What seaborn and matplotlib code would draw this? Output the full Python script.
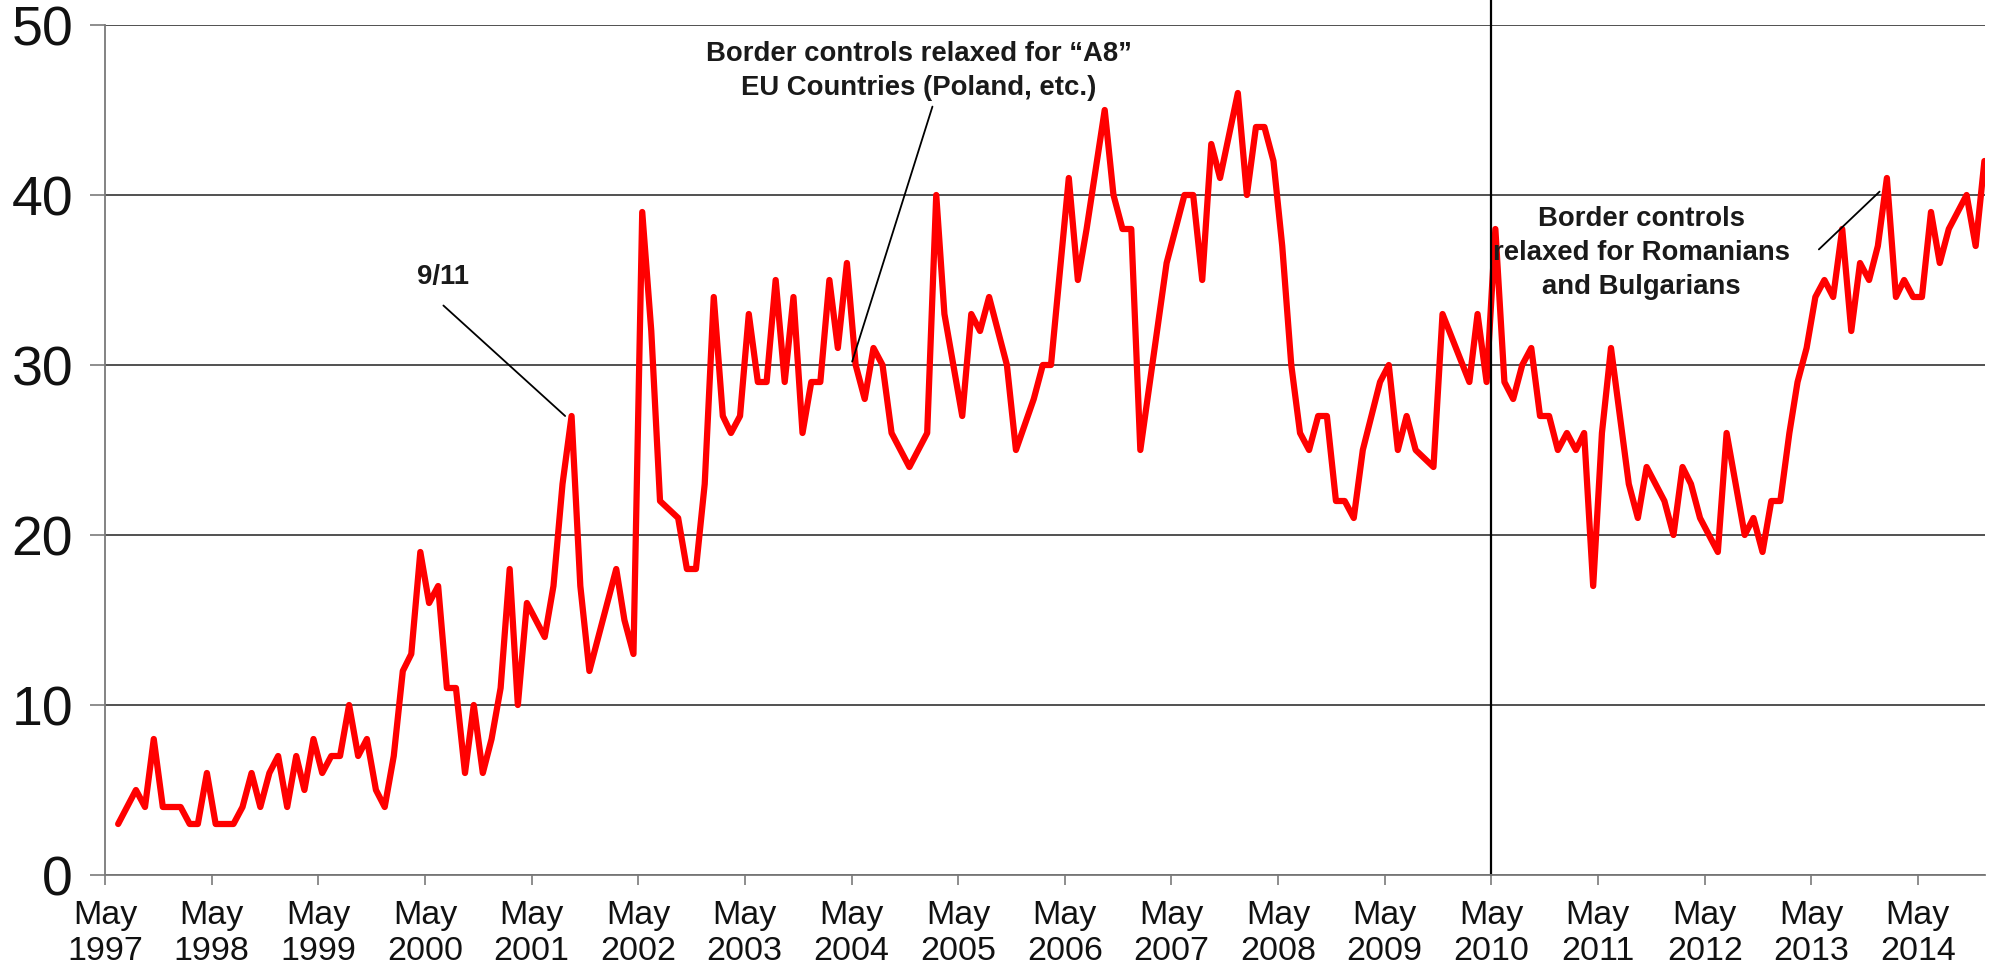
import pandas as pd
import seaborn as sns
import matplotlib.pyplot as plt

# vertices of the monthly series (months with no kink are left out)
months = [
    "1997-06", "1997-08", "1997-09", "1997-10", "1997-11",
    "1998-01", "1998-02", "1998-03", "1998-04", "1998-05", "1998-07", "1998-08",
    "1998-09", "1998-10", "1998-11", "1998-12",
    "1999-01", "1999-02", "1999-03", "1999-04", "1999-05", "1999-06", "1999-07",
    "1999-08", "1999-09", "1999-10", "1999-11", "1999-12",
    "2000-01", "2000-02", "2000-03", "2000-04", "2000-05", "2000-06", "2000-07",
    "2000-08", "2000-09", "2000-10", "2000-11", "2000-12",
    "2001-01", "2001-02", "2001-03", "2001-04", "2001-06", "2001-07", "2001-08",
    "2001-09", "2001-10", "2001-11",
    "2002-02", "2002-03", "2002-04", "2002-05", "2002-06", "2002-07", "2002-09",
    "2002-10", "2002-11", "2002-12",
    "2003-01", "2003-02", "2003-03", "2003-04", "2003-05", "2003-06", "2003-07",
    "2003-08", "2003-09", "2003-10", "2003-11", "2003-12",
    "2004-01", "2004-02", "2004-03", "2004-04", "2004-05", "2004-06", "2004-07",
    "2004-08", "2004-09", "2004-11",
    "2005-01", "2005-02", "2005-03", "2005-05", "2005-06", "2005-07", "2005-08",
    "2005-10", "2005-11",
    "2006-01", "2006-02", "2006-03", "2006-05", "2006-06", "2006-07", "2006-09",
    "2006-10", "2006-11", "2006-12",
    "2007-01", "2007-04", "2007-06", "2007-07", "2007-08", "2007-09", "2007-10",
    "2007-12",
    "2008-01", "2008-02", "2008-03", "2008-04", "2008-05", "2008-06", "2008-07",
    "2008-08", "2008-09", "2008-10", "2008-11", "2008-12",
    "2009-01", "2009-02", "2009-04", "2009-05", "2009-06", "2009-07", "2009-08",
    "2009-10", "2009-11",
    "2010-02", "2010-03", "2010-04", "2010-05", "2010-06", "2010-07", "2010-08",
    "2010-09", "2010-10", "2010-11", "2010-12",
    "2011-01", "2011-02", "2011-03", "2011-04", "2011-05", "2011-06", "2011-08",
    "2011-09", "2011-10", "2011-12",
    "2012-01", "2012-02", "2012-03", "2012-04", "2012-06", "2012-07", "2012-09",
    "2012-10", "2012-11", "2012-12",
    "2013-01", "2013-02", "2013-03", "2013-04", "2013-05", "2013-06", "2013-07",
    "2013-08", "2013-09", "2013-10", "2013-11", "2013-12",
    "2014-01", "2014-02", "2014-03", "2014-04", "2014-05", "2014-06", "2014-07",
    "2014-08", "2014-10", "2014-11", "2014-12",
]
values = [
    3, 5, 4, 8, 4,
    4, 3, 3, 6, 3, 3, 4, 6, 4, 6, 7,
    4, 7, 5, 8, 6, 7, 7, 10, 7, 8, 5, 4,
    7, 12, 13, 19, 16, 17, 11, 11, 6, 10, 6, 8,
    11, 18, 10, 16, 14, 17, 23, 27, 17, 12,
    18, 15, 13, 39, 32, 22, 21, 18, 18, 23,
    34, 27, 26, 27, 33, 29, 29, 35, 29, 34, 26, 29,
    29, 35, 31, 36, 30, 28, 31, 30, 26, 24,
    26, 40, 33, 27, 33, 32, 34, 30, 25,
    28, 30, 30, 41, 35, 38, 45, 40, 38, 38,
    25, 36, 40, 40, 35, 43, 41, 46,
    40, 44, 44, 42, 37, 30, 26, 25, 27, 27, 22, 22,
    21, 25, 29, 30, 25, 27, 25, 24, 33,
    29, 33, 29, 38, 29, 28, 30, 31, 27, 27, 25,
    26, 25, 26, 17, 26, 31, 23, 21, 24, 22,
    20, 24, 23, 21, 19, 26, 20, 21, 19, 22,
    22, 26, 29, 31, 34, 35, 34, 38, 32, 36, 35, 37,
    41, 34, 35, 34, 34, 39, 36, 38, 40, 37, 42,
]
tick_years = list(range(1997, 2015))
y_ticks = [0, 10, 20, 30, 40, 50]

df = pd.DataFrame({
    "date": pd.to_datetime(months) + pd.Timedelta(days=14),
    "value": values,
})

sns.set_style("white")
plt.rcParams["font.family"] = ["Liberation Sans", "DejaVu Sans"]

fig = plt.figure(figsize=(19.97, 9.74), dpi=100)
ax = fig.add_axes([105 / 1997, 99 / 974, 1880 / 1997, 850 / 974])

sns.lineplot(data=df, x="date", y="value", color="#ff0000", lw=4.5, ax=ax)

ax.set_ylim(0, 50)
ax.set_yticks(y_ticks)
ax.set_xlim(pd.Timestamp("1997-05-01"), pd.Timestamp("2014-12-17"))
ax.set_xticks([pd.Timestamp(f"{y}-05-01") for y in tick_years])
ax.set_xticklabels([f"May\n{y}" for y in tick_years], linespacing=1.22)
ax.set_xlabel("")
ax.set_ylabel("")

ax.yaxis.grid(True, color="#333333", lw=1.2)
ax.xaxis.grid(False)
ax.set_axisbelow(True)
for side in ["top", "right"]:
    ax.spines[side].set_visible(False)
for side in ["left", "bottom"]:
    ax.spines[side].set_color("#7a7a7a")
    ax.spines[side].set_linewidth(1.3)

ax.tick_params(axis="y", labelsize=40, length=11, width=1.2, color="#7a7a7a",
               pad=12, labelcolor="#111111", direction="out", left=True)
ax.tick_params(axis="x", labelsize=24.5, length=7, width=1.2, color="#7a7a7a",
               pad=11, labelcolor="#111111", direction="out", bottom=True)

# vertical marker at May 2010
ax.axvline(pd.Timestamp("2010-05-01"), ymin=0, ymax=1.03, clip_on=False,
           color="black", lw=1.6)

note_kw = dict(fontsize=19.8, fontweight="bold", color="#1a1a1a",
               ha="center", va="center", multialignment="center",
               linespacing=1.4)
line_kw = dict(arrowstyle="-", color="black", lw=1.3, shrinkA=0, shrinkB=0)

ax.text(pd.Timestamp("2000-07-01"), 35.2, "9/11", **note_kw)
ax.annotate("", xy=(pd.Timestamp("2001-08-24"), 27.0),
            xytext=(pd.Timestamp("2000-07-03"), 33.5), arrowprops=line_kw)

ax.text(pd.Timestamp("2004-12-18"), 47.3,
        "Border controls relaxed for \u201cA8\u201d\nEU Countries (Poland, etc.)",
        **note_kw)
ax.annotate("", xy=(pd.Timestamp("2004-05-03"), 30.2),
            xytext=(pd.Timestamp("2005-02-02"), 45.2), arrowprops=line_kw)

ax.text(pd.Timestamp("2011-09-27"), 36.6,
        "Border controls\nrelaxed for Romanians\nand Bulgarians", **note_kw)
ax.annotate("", xy=(pd.Timestamp("2013-12-21"), 40.2),
            xytext=(pd.Timestamp("2013-05-27"), 36.8), arrowprops=line_kw)

fig.savefig("out.png", dpi=100)
